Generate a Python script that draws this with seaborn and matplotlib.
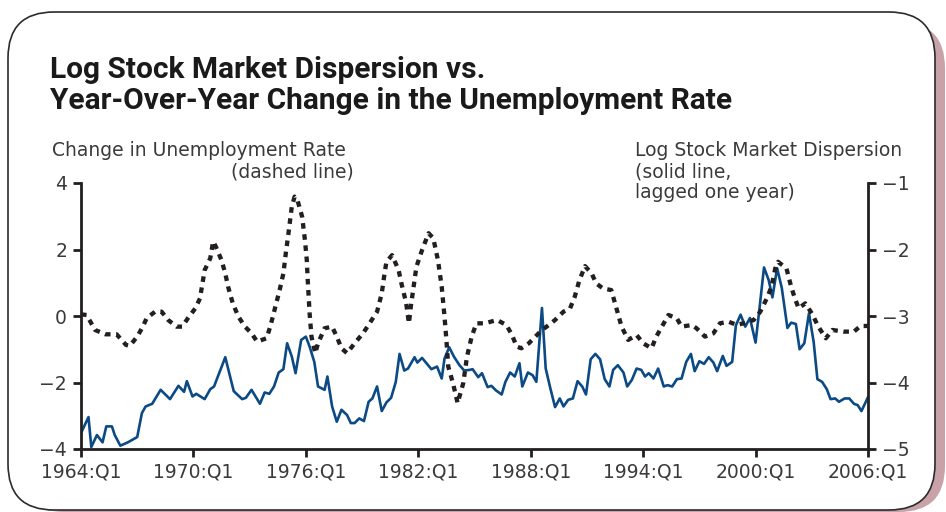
import matplotlib
matplotlib.use("Agg")
import matplotlib.pyplot as plt
import seaborn as sns
import pandas as pd
from matplotlib.patches import FancyBboxPatch
from matplotlib.transforms import IdentityTransform

# ---------------- data ----------------
unemp_time = [1964.0, 1964.3, 1964.75, 1965.3, 1965.9, 1966.4, 1966.6, 1967.0, 1967.3, 1967.5,
              1967.95, 1968.3, 1968.65, 1969.1, 1969.4, 1969.7, 1970.1, 1970.35, 1970.5, 1970.6,
              1970.9, 1971.05, 1971.2, 1971.5, 1971.7, 1971.85, 1972.1, 1972.4, 1972.75, 1973.1,
              1973.4, 1973.9, 1974.1, 1974.35, 1974.6, 1974.8, 1974.95, 1975.05, 1975.25, 1975.4,
              1975.55, 1975.8, 1975.95, 1976.05, 1976.1, 1976.2, 1976.3, 1976.5, 1976.65, 1977.0,
              1977.4, 1977.65, 1977.9, 1978.2, 1978.6, 1979.05, 1979.4, 1979.8, 1980.05, 1980.2,
              1980.3, 1980.6, 1980.95, 1981.1, 1981.35, 1981.5, 1981.6, 1981.75, 1981.9, 1982.2,
              1982.55, 1982.8, 1983.05, 1983.25, 1983.4, 1983.5, 1983.6, 1983.85, 1984.1, 1984.4,
              1984.6, 1984.85, 1985.1, 1985.55, 1986.2, 1986.7, 1987.0, 1987.25, 1987.5, 1987.9,
              1988.25, 1988.6, 1988.85, 1989.3, 1989.75, 1990.1, 1990.35, 1990.6, 1990.9, 1991.25,
              1991.5, 1991.85, 1992.3, 1992.6, 1992.85, 1993.2, 1993.65, 1994.0, 1994.45, 1994.7,
              1995.1, 1995.35, 1995.8, 1996.05, 1996.6, 1996.85, 1997.3, 1997.75, 1998.1, 1998.55,
              1999.0, 1999.35, 1999.9, 2000.25, 2000.6, 2000.85, 2001.05, 2001.2, 2001.65, 2001.9,
              2002.1, 2002.3, 2002.65, 2003.0, 2003.35, 2003.75, 2004.1, 2004.7, 2005.25, 2005.6,
              2006.0]
unemp_change = [0.05, 0.03, -0.42, -0.55, -0.55, -0.87, -0.90, -0.62, -0.32, -0.07,
                0.13, 0.13, -0.12, -0.32, -0.32, -0.07, 0.23, 0.53, 1.03, 1.38,
                1.74, 2.24, 2.08, 1.68, 1.28, 0.88, 0.38, -0.02, -0.32, -0.52,
                -0.77, -0.67, -0.32, 0.23, 0.78, 1.28, 1.98, 2.39, 3.29, 3.59,
                3.49, 2.99, 2.29, 1.68, 1.08, 0.08, -0.62, -1.12, -0.82, -0.37,
                -0.32, -0.62, -0.97, -1.12, -0.82, -0.52, -0.22, 0.13, 0.68, 1.28,
                1.63, 1.83, 1.38, 0.98, 0.40, -0.22, 0.28, 0.88, 1.48, 1.98,
                2.49, 2.34, 1.68, 0.88, -0.02, -0.72, -1.52, -2.02, -2.62, -2.02,
                -1.22, -0.62, -0.22, -0.22, -0.12, -0.27, -0.57, -0.92, -0.97, -0.82,
                -0.62, -0.42, -0.32, -0.12, 0.13, 0.23, 0.58, 1.08, 1.50, 1.28,
                0.98, 0.83, 0.78, 0.18, -0.32, -0.72, -0.57, -0.82, -0.97, -0.62,
                -0.22, 0.03, -0.07, -0.32, -0.27, -0.37, -0.62, -0.52, -0.22, -0.17,
                -0.27, -0.22, -0.12, 0.13, 0.53, 0.88, 1.43, 1.63, 1.43, 0.88,
                0.53, 0.23, 0.38, 0.08, -0.32, -0.67, -0.42, -0.47, -0.47, -0.30,
                -0.30]

disp_time = [1964.0, 1964.4, 1964.55, 1964.85, 1965.15, 1965.35, 1965.65, 1965.8, 1966.1, 1966.5,
             1967.0, 1967.25, 1967.45, 1967.8, 1968.25, 1968.75, 1969.2, 1969.5, 1969.65, 1969.95,
             1970.15, 1970.6, 1970.9, 1971.1, 1971.7, 1972.15, 1972.6, 1972.8, 1973.1, 1973.55,
             1973.8, 1974.05, 1974.3, 1974.55, 1974.8, 1975.0, 1975.25, 1975.45, 1975.75, 1976.0,
             1976.2, 1976.45, 1976.65, 1977.0, 1977.15, 1977.4, 1977.65, 1977.9, 1978.2, 1978.4,
             1978.6, 1978.85, 1979.1, 1979.35, 1979.55, 1979.8, 1980.05, 1980.3, 1980.55, 1980.8,
             1981.0, 1981.25, 1981.45, 1981.8, 1981.95, 1982.2, 1982.7, 1983.0, 1983.25, 1983.4,
             1983.65, 1983.9, 1984.2, 1984.45, 1984.75, 1984.9, 1985.2, 1985.4, 1985.7, 1985.9,
             1986.15, 1986.45, 1986.65, 1986.9, 1987.15, 1987.4, 1987.55, 1987.85, 1988.1, 1988.3,
             1988.6, 1988.8, 1989.05, 1989.3, 1989.55, 1989.75, 1990.0, 1990.25, 1990.5, 1990.75,
             1990.95, 1991.2, 1991.45, 1991.7, 1991.95, 1992.2, 1992.4, 1992.65, 1992.95, 1993.15,
             1993.4, 1993.65, 1993.9, 1994.1, 1994.3, 1994.55, 1994.8, 1995.1, 1995.3, 1995.55,
             1995.8, 1996.05, 1996.3, 1996.55, 1996.75, 1997.0, 1997.25, 1997.5, 1997.75, 1997.95,
             1998.25, 1998.45, 1998.75, 1998.95, 1999.2, 1999.45, 1999.7, 2000.0, 2000.2, 2000.45,
             2000.7, 2000.9, 2001.15, 2001.4, 2001.7, 2001.9, 2002.15, 2002.35, 2002.6, 2002.85,
             2003.1, 2003.3, 2003.55, 2003.8, 2004.0, 2004.25, 2004.45, 2004.75, 2005.0, 2005.25,
             2005.45, 2005.65, 2006.0]
log_dispersion = [-4.76, -4.52, -4.97, -4.79, -4.90, -4.66, -4.66, -4.79, -4.95, -4.90,
                  -4.82, -4.46, -4.36, -4.32, -4.11, -4.25, -4.05, -4.14, -3.98, -4.21,
                  -4.17, -4.25, -4.10, -4.06, -3.62, -4.13, -4.25, -4.23, -4.11, -4.32,
                  -4.15, -4.17, -4.06, -3.85, -3.80, -3.41, -3.61, -3.86, -3.36, -3.31,
                  -3.46, -3.69, -4.06, -4.11, -3.91, -4.36, -4.59, -4.41, -4.49, -4.61,
                  -4.61, -4.54, -4.58, -4.29, -4.24, -4.06, -4.43, -4.30, -4.23, -3.99,
                  -3.57, -3.82, -3.79, -3.62, -3.70, -3.63, -3.80, -3.76, -3.94, -3.64,
                  -3.47, -3.61, -3.74, -3.82, -3.81, -3.80, -3.92, -3.86, -4.07, -4.05,
                  -4.12, -4.18, -3.99, -3.85, -3.91, -3.71, -4.06, -3.85, -3.89, -3.99,
                  -2.88, -3.79, -4.09, -4.37, -4.24, -4.36, -4.26, -4.24, -3.98, -4.06,
                  -4.18, -3.65, -3.57, -3.65, -3.95, -4.06, -3.81, -3.74, -3.85, -4.06,
                  -3.96, -3.79, -3.81, -3.91, -3.86, -3.94, -3.79, -4.06, -4.04, -4.06,
                  -3.95, -3.94, -3.69, -3.57, -3.83, -3.68, -3.72, -3.62, -3.70, -3.83,
                  -3.60, -3.75, -3.69, -3.14, -2.98, -3.16, -3.03, -3.40, -2.91, -2.27,
                  -2.46, -2.72, -2.28, -2.58, -3.18, -3.10, -3.12, -3.50, -3.41, -2.96,
                  -3.39, -3.95, -3.99, -4.10, -4.25, -4.24, -4.29, -4.24, -4.24, -4.32,
                  -4.34, -4.43, -4.22]

x_tick_years = [1964, 1970, 1976, 1982, 1988, 1994, 2000, 2006]
x_tick_labels = ["1964:Q1", "1970:Q1", "1976:Q1", "1982:Q1", "1988:Q1", "1994:Q1", "2000:Q1", "2006:Q1"]
left_ticks = [-4, -2, 0, 2, 4]
right_ticks = [-5, -4, -3, -2, -1]

title_lines = ["Log Stock Market Dispersion vs.", "Year-Over-Year Change in the Unemployment Rate"]

# ---------------- styling ----------------
sns.set_theme(style="white")
plt.rcParams["font.family"] = ["DejaVu Sans"]

W, H = 946, 512
fig = plt.figure(figsize=(W / 100, H / 100), dpi=100)
fig.patch.set_facecolor("white")

# framed card with pink shadow on the right
shadow = FancyBboxPatch((18, 0), 927, 490, boxstyle="round,pad=0,rounding_size=46",
                        transform=IdentityTransform(), facecolor="#c9a2a9", edgecolor="none", zorder=0)
card = FancyBboxPatch((8, 2), 927, 498, boxstyle="round,pad=0,rounding_size=46",
                      transform=IdentityTransform(), facecolor="white", edgecolor="#2b2b2b",
                      linewidth=1.2, zorder=1)
fig.patches.extend([shadow, card])

ax = fig.add_axes([81 / W, (H - 449) / H, (868 - 81) / W, (449 - 183) / H])
ax.set_facecolor("none")
ax.set_zorder(3)
ax2 = ax.twinx()
ax2.set_zorder(2)

dark = "#231f20"
blue = "#0b4a84"
txt = "#3a3a3a"

df_u = pd.DataFrame({"t": unemp_time, "v": unemp_change})
df_d = pd.DataFrame({"t": disp_time, "v": log_dispersion})

sns.lineplot(data=df_d, x="t", y="v", ax=ax2, color=blue, linewidth=1.9,
             estimator=None, sort=False)
sns.lineplot(data=df_u, x="t", y="v", ax=ax, color=dark, linewidth=3.1,
             linestyle=(0, (1.3, 1.3)), estimator=None, sort=False)
for ln in ax.lines:
    ln.set_dash_capstyle("butt")

ax.set_xlim(1964, 2006)
ax.set_ylim(-4, 4)
ax2.set_ylim(-5, -1)
ax.set_xticks(x_tick_years)
ax.set_xticklabels(x_tick_labels)
ax.set_yticks(left_ticks)
ax.set_yticklabels([f"{v}".replace("-", "\u2212") for v in left_ticks])
ax2.set_yticks(right_ticks)
ax2.set_yticklabels([f"{v}".replace("-", "\u2212") for v in right_ticks])
ax.set_xlabel("")
ax.set_ylabel("")
ax2.set_ylabel("")

for a in (ax, ax2):
    for s in a.spines.values():
        s.set_visible(False)
    a.grid(False)
ax.spines["left"].set_visible(True)
ax.spines["bottom"].set_visible(True)
ax2.spines["right"].set_visible(True)
for s in (ax.spines["left"], ax.spines["bottom"], ax2.spines["right"]):
    s.set_linewidth(2.0)
    s.set_color(dark)

ax.tick_params(axis="both", direction="out", length=6, width=2.0, color=dark,
               labelsize=13.5, labelcolor=txt, pad=4)
ax.tick_params(axis="x", pad=4)
ax.tick_params(axis="y", left=True, right=False)
ax.tick_params(axis="x", bottom=True, top=False)
ax2.tick_params(axis="y", direction="out", length=6, width=2.0, color=dark,
                labelsize=13.5, labelcolor=txt, right=True, left=False, pad=4)

# titles and axis captions
title_font = ["Roboto", "DejaVu Sans"]
fig.text(50 / W, 1 - 70 / H, title_lines[0], fontsize=21.5, fontweight="bold",
         family=title_font, color="#1a1a1a", va="center", ha="left")
fig.text(50 / W, 1 - 101 / H, title_lines[1], fontsize=21.5, fontweight="bold",
         family=title_font, color="#1a1a1a", va="center", ha="left")

fig.text(52 / W, 1 - 151 / H, "Change in Unemployment Rate", fontsize=13.5,
         color=txt, va="center", ha="left")
fig.text(354 / W, 1 - 172 / H, "(dashed line)", fontsize=13.5,
         color=txt, va="center", ha="right")
fig.text(635 / W, 1 - 151 / H, "Log Stock Market Dispersion", fontsize=13.5,
         color=txt, va="center", ha="left")
fig.text(635 / W, 1 - 172 / H, "(solid line,", fontsize=13.5,
         color=txt, va="center", ha="left")
fig.text(635 / W, 1 - 193 / H, "lagged one year)", fontsize=13.5,
         color=txt, va="center", ha="left")

fig.savefig("out.png", dpi=100)
